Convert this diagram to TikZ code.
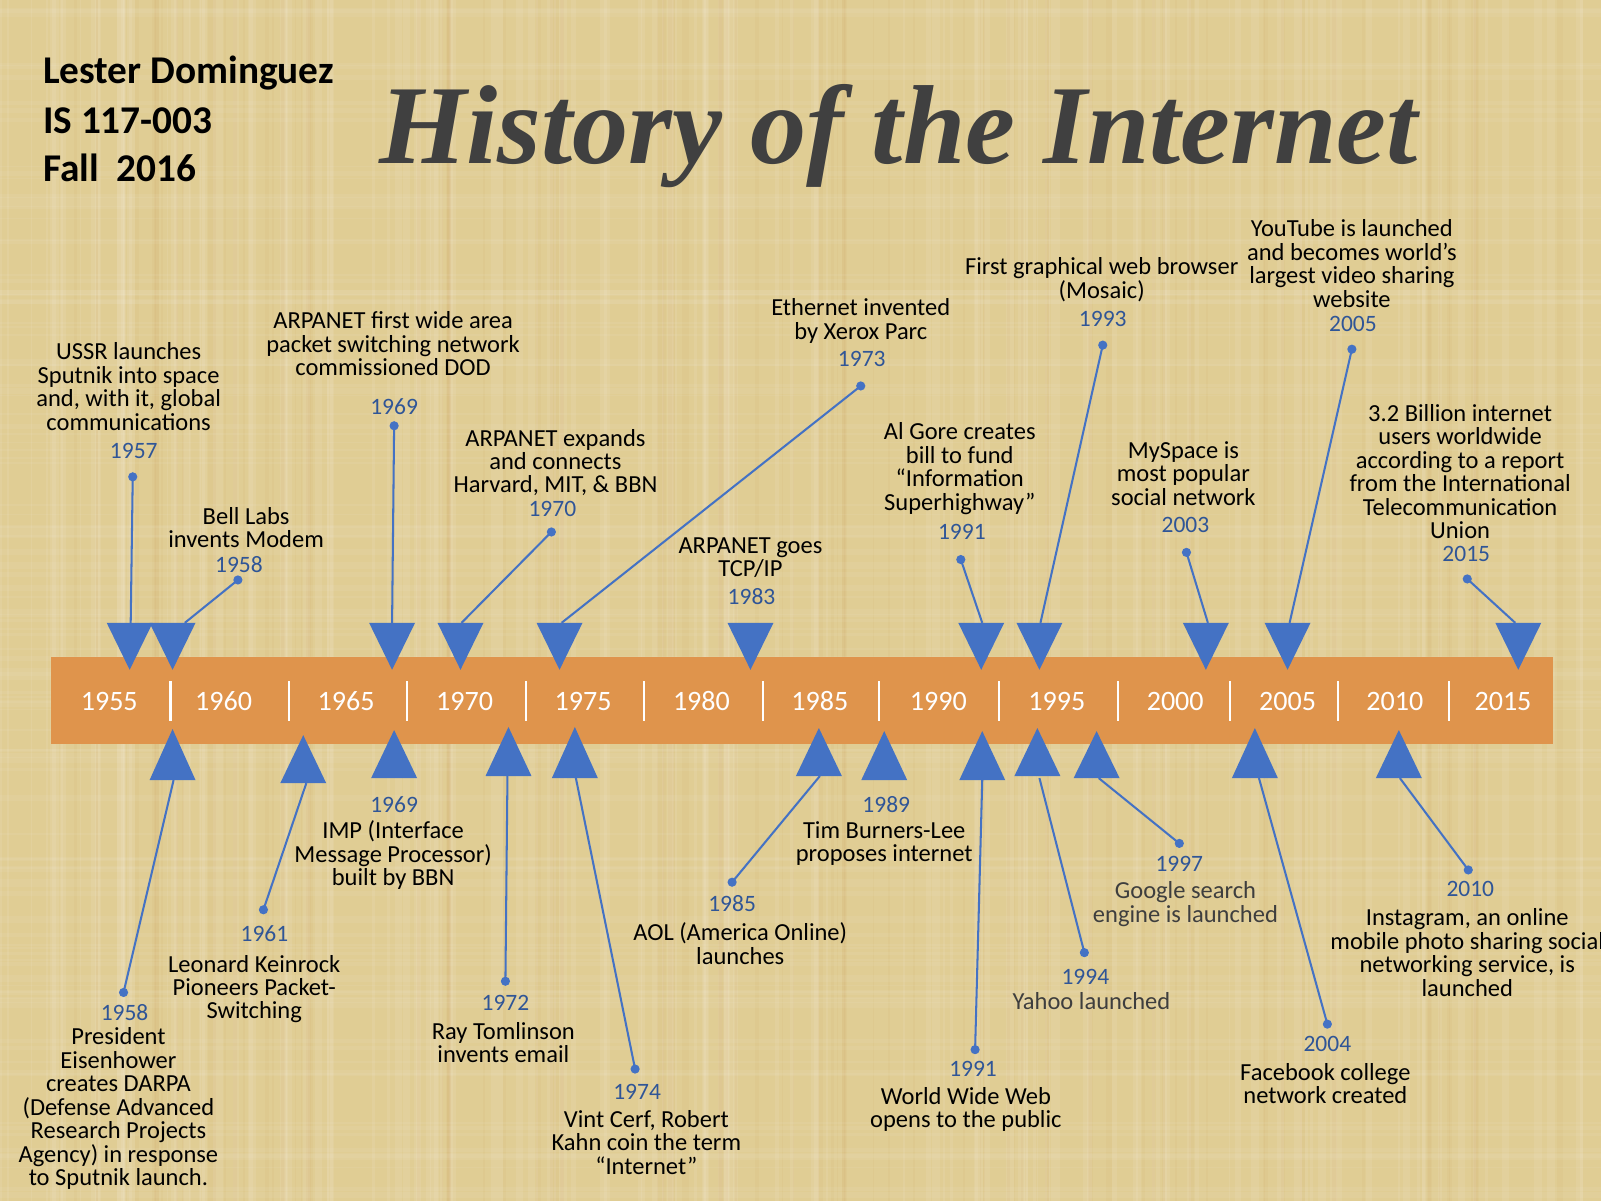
\documentclass[tikz,border=0pt]{standalone}
\usepackage{fontspec}
\setmainfont{Carlito}
\newfontfamily\titlefont{Liberation Serif}
\definecolor{paper}{RGB}{224,205,148}
\definecolor{barorange}{RGB}{223,148,76}
\definecolor{triblue}{RGB}{68,114,196}
\definecolor{yearblue}{RGB}{47,85,151}
\definecolor{titlegray}{RGB}{64,64,64}
\definecolor{descgray}{RGB}{62,62,62}
\newcommand{\dtri}[2]{\fill[triblue] (#2-22.5,610) -- (#2+22.5,610) -- (#2,656) -- cycle;}
\newcommand{\utri}[4]{\fill[triblue] (#2-22.5,#3) -- (#2+22.5,#3) -- (#2,#4) -- cycle; \coordinate (#1) at (#2,#3);}
\tikzset{
  desc/.style={align=center, font=\fontsize{24}{23}\selectfont, text=black, inner sep=0pt, yshift=-2pt},
  descg/.style={desc, text=descgray},
  yr/.style={font=\fontsize{23}{23}\selectfont, text=yearblue, inner sep=0pt},
  conn/.style={draw=triblue, line width=2pt},
  dotc/.style={fill=triblue},
  barlab/.style={font=\fontsize{27.5}{27.5}\selectfont, text=white, inner sep=0pt},
  sep/.style={draw=white, line width=2pt},
  author/.style={font=\fontsize{38.5}{38.5}\selectfont\bfseries, anchor=west, inner sep=0pt},
}
\begin{document}
\begin{tikzpicture}[x=1pt,y=-1pt]
\useasboundingbox (0,0) rectangle (1568,1176);
% background
\fill[paper] (0,0) rectangle (1568,1176);
\pgfmathsetseed{7}
\foreach \i in {1,...,140}{
  \pgfmathsetmacro{\xx}{rnd*1568}
  \pgfmathsetmacro{\ww}{1+rnd*7}
  \fill[white, opacity=0.08] (\xx,0) rectangle ++(\ww,1176);
}
\foreach \i in {1,...,90}{
  \pgfmathsetmacro{\xx}{rnd*1568}
  \pgfmathsetmacro{\ww}{1+rnd*4}
  \fill[brown, opacity=0.05] (\xx,0) rectangle ++(\ww,1176);
}
\foreach \i in {1,...,120}{
  \pgfmathsetmacro{\yy}{rnd*1176}
  \pgfmathsetmacro{\hh}{1+rnd*5}
  \fill[white, opacity=0.06] (0,\yy) rectangle ++(1568,\hh);
}
% header
\node[author] (a1) at (42,72) {Lester Dominguez};
\node[author] (a2) at (42,118) {IS 117-003};
\node[author] (a3) at (42,164) {Fall\ \ 2016};
\node[anchor=base, inner sep=0pt, text=titlegray, font=\titlefont\fontsize{110}{110}\selectfont\bfseries\itshape] (title) at (880,160) {History of the Internet};
% bar
\fill[barorange] (50,643) rectangle (1521,729);
\foreach \x in {167,283,399,515,631,747,861,978,1095,1205,1310,1419}{
  \draw[sep] (\x,667) -- (\x,706);
}
\foreach \x/\y [count=\k] in {107/1955,219/1960,339/1965,455/1970,571/1975,687/1980,803/1985,919/1990,1035/1995,1151/2000,1261/2005,1366/2010,1472/2015}{
  \node[barlab] (bar\k) at (\x,687) {\y};
}
% top triangles
\dtri{ta}{127}
\dtri{tb}{169}
\dtri{tc}{384}
\dtri{td}{451}
\dtri{te}{548}
\dtri{tf}{735}
\dtri{tg}{961}
\dtri{th}{1018}
\dtri{ti}{1181}
\dtri{tj}{1261}
\dtri{tk}{1487}
% bottom triangles
\utri{ba}{169}{764}{714}
\utri{bb}{297}{767}{720}
\utri{bc}{386}{762}{715}
\utri{bd}{498}{760}{712}
\utri{be}{563}{762}{712}
\utri{bf}{802}{760}{713}
\utri{bg}{866}{764}{716}
\utri{bh}{962}{764}{716}
\utri{bi}{1016}{760}{713}
\utri{bj}{1074}{762}{716}
\utri{bk}{1229}{762}{713}
\utri{bl}{1370}{762}{715}
% connector end points on the triangles
\coordinate (ea) at (128,610);
\coordinate (eb) at (181,610);
\coordinate (ec) at (384,610);
\coordinate (ed) at (452,610);
\coordinate (ee) at (550,610);
\coordinate (eg) at (962,610);
\coordinate (eh) at (1019,610);
\coordinate (ei) at (1183,610);
\coordinate (ej) at (1263,610);
\coordinate (ek) at (1484,610);
\coordinate (fa) at (170,764);
\coordinate (fb) at (300,767);
\coordinate (fd) at (497,760);
\coordinate (fe) at (564,762);
\coordinate (ff) at (803,760);
\coordinate (fh) at (962,764);
\coordinate (fi) at (1018,762);
\coordinate (fj) at (1076,762);
\coordinate (fk) at (1233,762);
\coordinate (fl) at (1371,762);
% dots
\coordinate (da) at (130,467);
\coordinate (db) at (233,568);
\coordinate (dc) at (386,417);
\coordinate (dd) at (540,521);
\coordinate (de) at (843,378);
\coordinate (dg) at (941,548);
\coordinate (dh) at (1080,338);
\coordinate (di) at (1162,541);
\coordinate (dj) at (1324,342);
\coordinate (dk) at (1437,567);
\coordinate (ga) at (121,972);
\coordinate (gb) at (258,891);
\coordinate (gd) at (495,961);
\coordinate (ge) at (622,1047);
\coordinate (gf) at (717,864);
\coordinate (gh) at (955,1028);
\coordinate (gi) at (1062,933);
\coordinate (gj) at (1155,826);
\coordinate (gk) at (1300,1003);
\coordinate (gl) at (1438,852);
\foreach \d/\e in {da/ea,db/eb,dc/ec,dd/ed,de/ee,dg/eg,dh/eh,di/ei,dj/ej,dk/ek,ga/fa,gb/fb,gd/fd,ge/fe,gf/ff,gh/fh,gi/fi,gj/fj,gk/fk,gl/fl}{
  \draw[conn] (\d) -- (\e);
  \fill[dotc] (\d) circle (4.5);
}
% top events
\node[desc] (xa) at (126,376.5) {USSR launches\\Sputnik into space\\and, with it, global\\communications};
\node[yr] (ya) at (131,442) {1957};
\node[desc] (xb) at (241,514.5) {Bell Labs\\invents Modem};
\node[yr] (yb) at (234,553) {1958};
\node[desc] (xc) at (385,334.7) {ARPANET first wide area\\packet switching network\\commissioned DOD};
\node[yr] (yc) at (386,398) {1969};
\node[desc] (xd) at (544,451) {ARPANET expands\\and connects\\Harvard, MIT, \& BBN};
\node[yr] (yd) at (541,498) {1970};
\node[desc] (xe) at (843,312.5) {Ethernet invented\\by Xerox Parc};
\node[yr] (ye) at (844,352) {1973};
\node[desc] (xf) at (735,544) {ARPANET goes\\TCP/IP};
\node[yr] (yf) at (736,584) {1983};
\node[desc] (xg) at (940,457) {Al Gore creates\\bill to fund\\“Information\\Superhighway”};
\node[yr] (yg) at (942,521) {1991};
\node[desc] (xh) at (1079,272) {First graphical web browser\\(Mosaic)};
\node[yr] (yh) at (1080,312) {1993};
\node[desc] (xi) at (1159,461.7) {MySpace is\\most popular\\social network};
\node[yr] (yi) at (1161,514) {2003};
\node[desc] (xj) at (1324,256) {YouTube is launched\\and becomes world’s\\largest video sharing\\website};
\node[yr] (yj) at (1325,317) {2005};
\node[desc] (xk) at (1430,460) {3.2 Billion internet\\users worldwide\\according to a report\\from the International\\Telecommunication\\Union};
\node[yr] (yk) at (1436,543) {2015};
% bottom events
\node[yr] (za) at (122,992) {1958};
\node[desc] (wa) at (116,1084) {President\\Eisenhower\\creates DARPA\\(Defense Advanced\\Research Projects\\Agency) in response\\to Sputnik launch.};
\node[yr] (zb) at (259,914) {1961};
\node[desc] (wb) at (249,966.7) {Leonard Keinrock\\Pioneers Packet-\\Switching};
\node[yr] (zc) at (386,788) {1969};
\node[desc] (wc) at (385,835.7) {IMP (Interface\\Message Processor)\\built by BBN};
\node[yr] (zd) at (495,982) {1972};
\node[desc] (wd) at (493,1019) {Ray Tomlinson\\invents email};
\node[yr] (ze) at (624,1069) {1974};
\node[desc] (we) at (633,1116.7) {Vint Cerf, Robert\\Kahn coin the term\\“Internet”};
\node[yr] (zf) at (717,885) {1985};
\node[desc] (wf) at (725,922) {AOL (America Online)\\launches};
\node[yr] (zg) at (868,788) {1989};
\node[desc] (wg) at (866,824) {Tim Burners-Lee\\proposes internet};
\node[yr] (zh) at (953,1047) {1991};
\node[desc] (wh) at (946,1084.5) {World Wide Web\\opens to the public};
\node[yr] (zi) at (1063,957) {1994};
\node[descg] (wi) at (1069,978) {Yahoo launched};
\node[yr] (zj) at (1155,846) {1997};
\node[descg] (wj) at (1161,883.5) {Google search\\engine is launched};
\node[yr] (zk) at (1300,1022) {2004};
\node[desc] (wk) at (1298,1059) {Facebook college\\network created};
\node[yr] (zl) at (1440,871) {2010};
\node[desc] (wl) at (1437,931) {Instagram, an online\\mobile photo sharing social\\networking service, is\\launched};
\end{tikzpicture}
\end{document}
